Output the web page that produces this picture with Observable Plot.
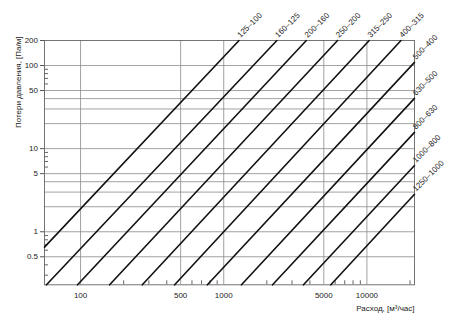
<!DOCTYPE html>
<html><head><meta charset="utf-8">
<script src="https://cdn.jsdelivr.net/npm/d3@7"></script>
<script src="https://cdn.jsdelivr.net/npm/@observablehq/plot@0.6"></script>
<style>body{margin:0;background:#fff}</style>
</head><body><div id="chart"></div>
<script>
// Line names (reducer sizes)
const seriesNames = ["125–100","160–125","200–160","250–200","315–250","400–315","500–400","630–500","800–630","1000–800","1250–1000"];
// Start point of each line (flow m³/h, pressure loss Pa/m)
const flowStart = [56, 57.8, 95.3, 159.6, 270, 454, 769, 1330, 2193, 3606, 5598];
const lossStart = [0.653, 0.23, 0.23, 0.23, 0.23, 0.23, 0.23, 0.23, 0.23, 0.23, 0.23];
// End point of each line
const flowEnd = [1279, 2350, 3776, 6238, 10380, 17300, 21500, 21500, 21500, 21500, 21500];
const lossEnd = [200, 200, 200, 200, 200, 200, 109, 40.2, 15.7, 6.27, 2.82];

// Axis ticks and grid
const xTicks = [100, 500, 1000, 5000, 10000];
const xMinor = [200,300,400,600,700,800,900,2000,3000,4000,6000,7000,8000,9000,20000];
const yTicks = [0.5, 1, 5, 10, 50, 100, 200];
const yGrid = [0.5, 1, 2, 3, 4, 5, 10, 20, 30, 40, 50, 100];
const yMinor = [0.3,0.4,0.6,0.7,0.8,0.9,6,7,8,9,60,70,80,90];
const xDomain = [56, 21500];
const yDomain = [0.23, 200];

const rows = seriesNames.flatMap((name, i) => [
  {name, flow: flowStart[i], loss: lossStart[i]},
  {name, flow: flowEnd[i], loss: lossEnd[i]}
]);
const ends = seriesNames.map((name, i) => ({name, flow: flowEnd[i], loss: lossEnd[i]}));

const font = "'Liberation Sans', Arial, sans-serif";
const chart = Plot.plot({
  width: 450, height: 316,
  marginLeft: 44, marginRight: 36, marginTop: 40, marginBottom: 31.7,
  style: {fontFamily: font, fontSize: "8px", background: "#fff", color: "#222"},
  x: {type: "log", domain: xDomain, label: null},
  y: {type: "log", domain: yDomain, label: null},
  marks: [
    Plot.ruleY(yGrid, {stroke: "#8a8a8a", strokeWidth: 0.8}),
    Plot.ruleX(xTicks, {stroke: "#8a8a8a", strokeWidth: 0.8}),
    Plot.frame({stroke: "#666", strokeWidth: 0.9}),
    Plot.axisY(yTicks, {anchor: "left", tickSize: 4, fill: "none", stroke: "#555", label: null}),
    Plot.axisY(yMinor, {anchor: "left", tickSize: 4, dx: 4, fill: "none", stroke: "#666", label: null}),
    Plot.axisX(xMinor, {anchor: "bottom", tickSize: 4, dy: -4, fill: "none", stroke: "#666", label: null}),
    Plot.text(yTicks, {y: d => d, text: d => String(d), frameAnchor: "left", textAnchor: "end", dx: -6.5, fontSize: 8, fill: "#222"}),
    Plot.text(xTicks, {x: d => d, text: d => String(d), frameAnchor: "bottom", lineAnchor: "top", dy: 8, fontSize: 8, fill: "#222"}),
    Plot.line(rows, {x: "flow", y: "loss", z: "name", stroke: "#111", strokeWidth: 1.6}),
    Plot.text(ends, {x: "flow", y: "loss", text: "name", rotate: -45, textAnchor: "start", lineAnchor: "bottom", dx: 1.5, dy: -2.5, fontSize: 8, fill: "#222"}),
    Plot.text(["Расход, [м³/час]"], {frameAnchor: "bottom-right", textAnchor: "end", dy: 26, fontSize: 8, fill: "#222"}),
    Plot.text(["Потери давления, [Па/м]"], {frameAnchor: "top-left", textAnchor: "end", rotate: -90, dx: -29, dy: -4, fontSize: 8, fill: "#222"})
  ]
});
document.getElementById("chart").append(chart);
</script>
</body></html>
